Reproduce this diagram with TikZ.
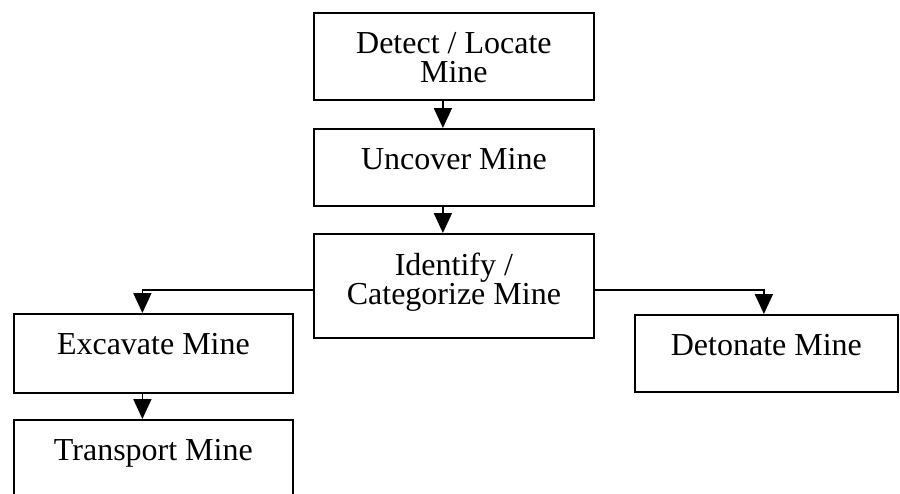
\documentclass[tikz,border=0pt]{standalone}
\usepackage{fontspec}
\setmainfont{Liberation Serif}
\usetikzlibrary{arrows.meta,positioning}
\tikzset{
  >={Triangle[length=10pt,width=9pt]},
  stepbox/.style={draw,line width=0.9pt,anchor=north west,inner xsep=0pt,inner ysep=0pt,
    align=center,font=\fontsize{16}{14.5}\selectfont,text height=20.5pt},
  flowarrow/.style={->,line width=0.9pt}
}
\begin{document}
\begin{tikzpicture}[x=0.5pt,y=-0.5pt]
    \useasboundingbox (0,0) rectangle (900,493);
    \clip (0,0) rectangle (900,493);
    % main column
    \node[stepbox,minimum width=140pt,text height=35pt,text depth=8.5pt] (detect) at (313,12) {Detect / Locate\\Mine};
    \node[stepbox,minimum width=140pt,text depth=18pt] (uncover) at (313,128) {Uncover Mine};
    \node[stepbox,minimum width=140pt,text height=35.5pt,text depth=16.5pt] (ident) at (313,233) {Identify /\\Categorize Mine};
    % branches
    \node[stepbox,minimum width=139.5pt,text depth=19pt] (excavate) at (13,313) {Excavate Mine};
    \node[stepbox,minimum width=139.5pt,text depth=19pt] (transport) at (13,419) {Transport Mine};
    \node[stepbox,minimum width=131.5pt,text depth=18pt] (detonate) at (634,314) {Detonate Mine};

    \draw[flowarrow] ([xshift=-5.5pt]detect.south) -- ([xshift=-5.5pt]uncover.north);
    \draw[flowarrow] ([xshift=-5.5pt]uncover.south) -- ([xshift=-5.5pt]ident.north);
    \draw[flowarrow] ([yshift=-2pt]ident.west) -| ([xshift=-5.5pt]excavate.north);
    \draw[flowarrow] ([yshift=-2pt]ident.east) -| ([xshift=-1.25pt]detonate.north);
    \draw[flowarrow] ([xshift=-5.5pt]excavate.south) -- ([xshift=-5.5pt]transport.north);
\end{tikzpicture}
\end{document}
